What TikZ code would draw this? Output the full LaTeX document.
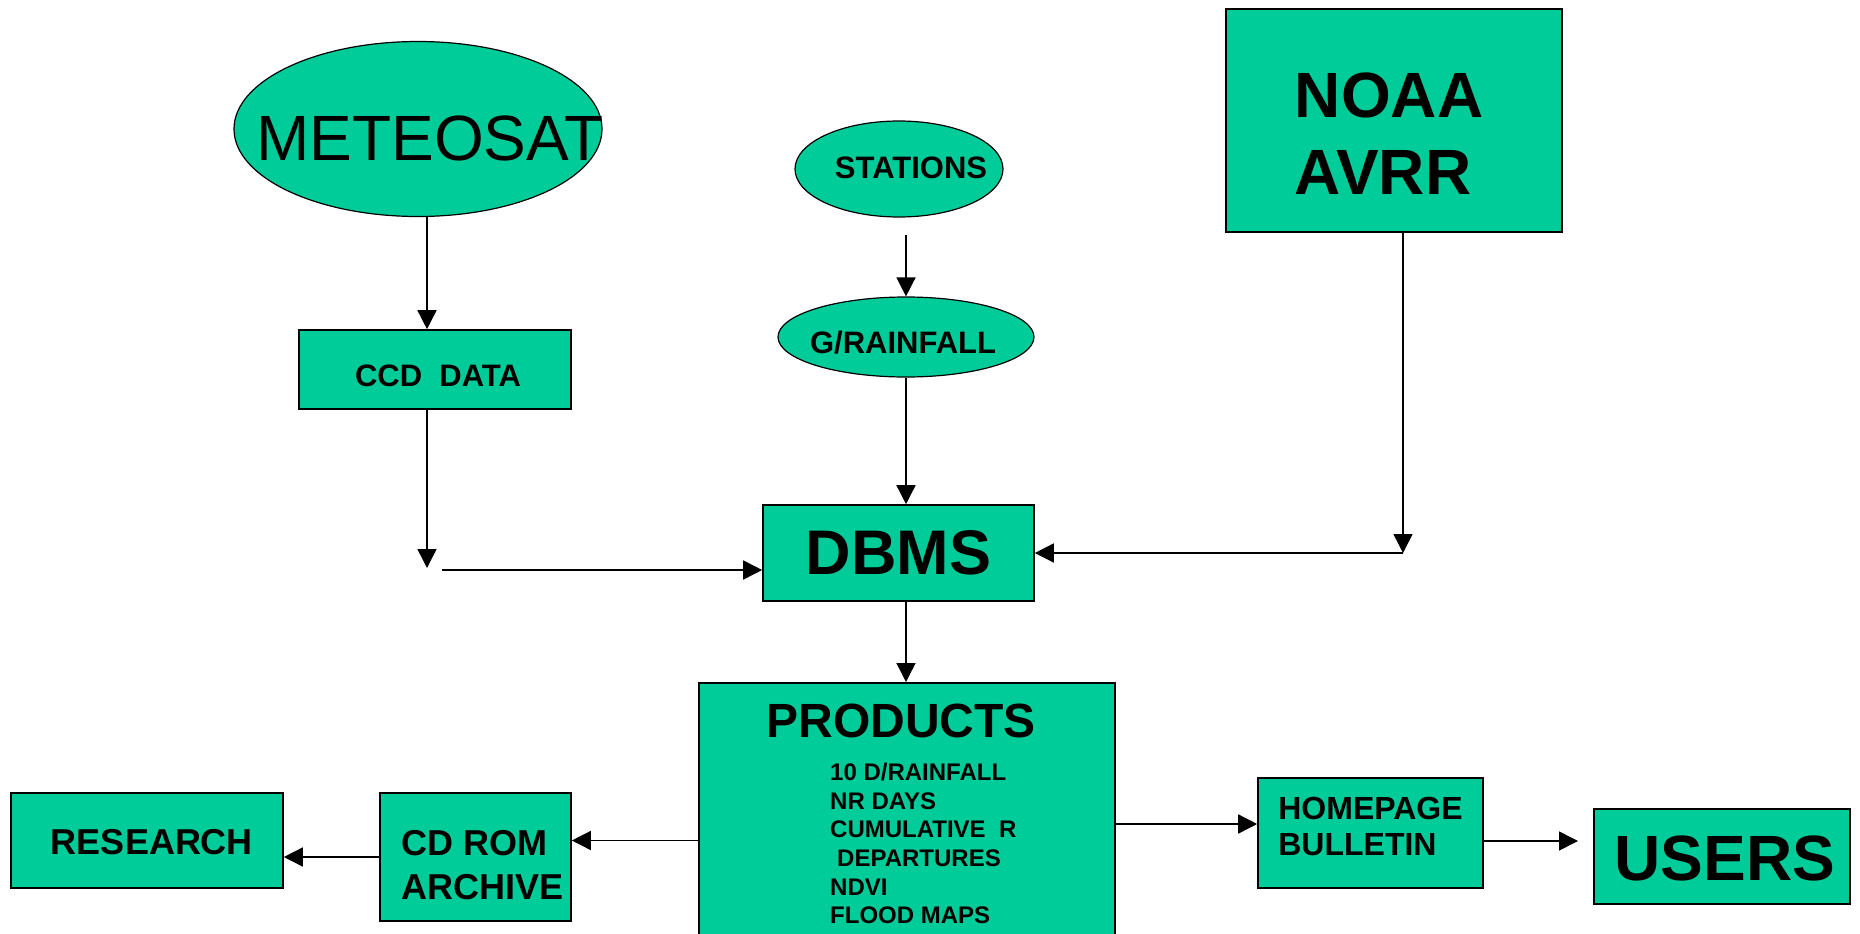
\documentclass[tikz,border=0pt]{standalone}
\usepackage{fontspec}
\setmainfont{Liberation Sans}
\usetikzlibrary{shapes.geometric,arrows.meta}
\definecolor{sea}{RGB}{0,204,153}

\begin{document}
\begin{tikzpicture}[x=1pt,y=1pt,
				every node/.style={inner sep=0pt},
				box/.style={rectangle,draw,fill=sea,line width=1.6pt},
				blob/.style={ellipse,draw,fill=sea,line width=1.2pt},
				arr/.style={line width=1.5pt,-{Triangle[length=19pt,width=19pt]}}]
\useasboundingbox (0,0) rectangle (1860,-934);
\node[blob,minimum width=368,minimum height=175,
	label={[xshift=12,yshift=-9,font=\fontsize{64}{77}\selectfont]center:METEOSAT}] (meteosat) at (418,-129) {};
\node[blob,minimum width=208,minimum height=96,
	label={[xshift=12,yshift=1,font=\bfseries\fontsize{31}{37}\selectfont]center:STATIONS}] (stations) at (899,-169) {};
\node[blob,minimum width=256,minimum height=80,
	label={[xshift=-3,yshift=-6,font=\bfseries\fontsize{31}{37}\selectfont]center:G/RAINFALL}] (grain) at (906,-337) {};
\node[box,minimum width=336,minimum height=223,
	label={[xshift=-5,yshift=-13,align=left,font=\bfseries\fontsize{64}{77}\selectfont]center:NOAA\\AVRR}] (noaa) at (1394,-120.5) {};
\node[box,minimum width=272,minimum height=79,
	label={[xshift=3,yshift=-6,font=\bfseries\fontsize{31}{37}\selectfont]center:CCD\ \ DATA}] (ccd) at (435,-369.5) {};
\node[box,minimum width=271,minimum height=96,
	label={[font=\bfseries\fontsize{63}{75}\selectfont]center:DBMS}] (dbms) at (898.5,-553) {};
\node[box,minimum width=416,minimum height=275,anchor=north] (products) at (907,-682) {};
\node[font=\bfseries\fontsize{48}{58}\selectfont] (prodtitle) at (901,-721) {PRODUCTS};
\node[anchor=north west,align=left,font=\bfseries\fontsize{24}{28.6}\selectfont] (prodlist) at (830,-763)
	{10 D/RAINFALL\\NR DAYS\\CUMULATIVE\ \ R\\\hspace{7pt}DEPARTURES\\NDVI\\FLOOD MAPS};
\node[box,minimum width=191,minimum height=128,
	label={[xshift=7,yshift=-8,align=left,font=\bfseries\fontsize{36}{44}\selectfont]center:CD ROM\\ARCHIVE}] (cdrom) at (475.5,-857) {};
\node[box,minimum width=272,minimum height=95,
	label={[xshift=5,yshift=-2,font=\bfseries\fontsize{36}{43}\selectfont]center:RESEARCH}] (research) at (147,-840.5) {};
\node[box,minimum width=225,minimum height=110,
	label={[xshift=0,yshift=7,align=left,font=\bfseries\fontsize{32}{36}\selectfont]center:HOMEPAGE\\BULLETIN}] (homepage) at (1370.5,-833) {};
\node[box,minimum width=256,minimum height=95,
	label={[xshift=3,yshift=-2,font=\bfseries\fontsize{64}{77}\selectfont]center:USERS}] (users) at (1722,-856.5) {};
\coordinate (leftcol) at (427,-568);
\coordinate (gapstart) at (442,-570);
\coordinate (midcol) at (906,0);
\coordinate (noaacorner) at (1403,-553);
\coordinate (usersgap) at (1578,-841);
\draw[arr] (meteosat.south -| leftcol) -- (ccd.north -| leftcol);
\draw[arr] (ccd.south -| leftcol) -- (leftcol);
\draw[arr] (gapstart) -- (gapstart -| dbms.west);
\draw[arr] ([yshift=-17]stations.south -| midcol) -- (grain.north -| midcol);
\draw[arr] (grain.south) -- (grain.south |- dbms.north);
\draw[arr] (noaa.south -| noaacorner) -- (noaacorner);
\draw[arr] (noaacorner) -- (noaacorner -| dbms.east);
\draw[arr] (dbms.south -| midcol) -- (products.north -| midcol);
\draw[arr] (products.west |- research.east) -- (cdrom.east |- research.east);
\draw[arr] (cdrom.west) -- (cdrom.west -| research.east);
\draw[arr] ([yshift=9]homepage.west -| products.east) -- ([yshift=9]homepage.west);
\draw[arr] (homepage.east |- usersgap) -- (usersgap);
\end{tikzpicture}
\end{document}
